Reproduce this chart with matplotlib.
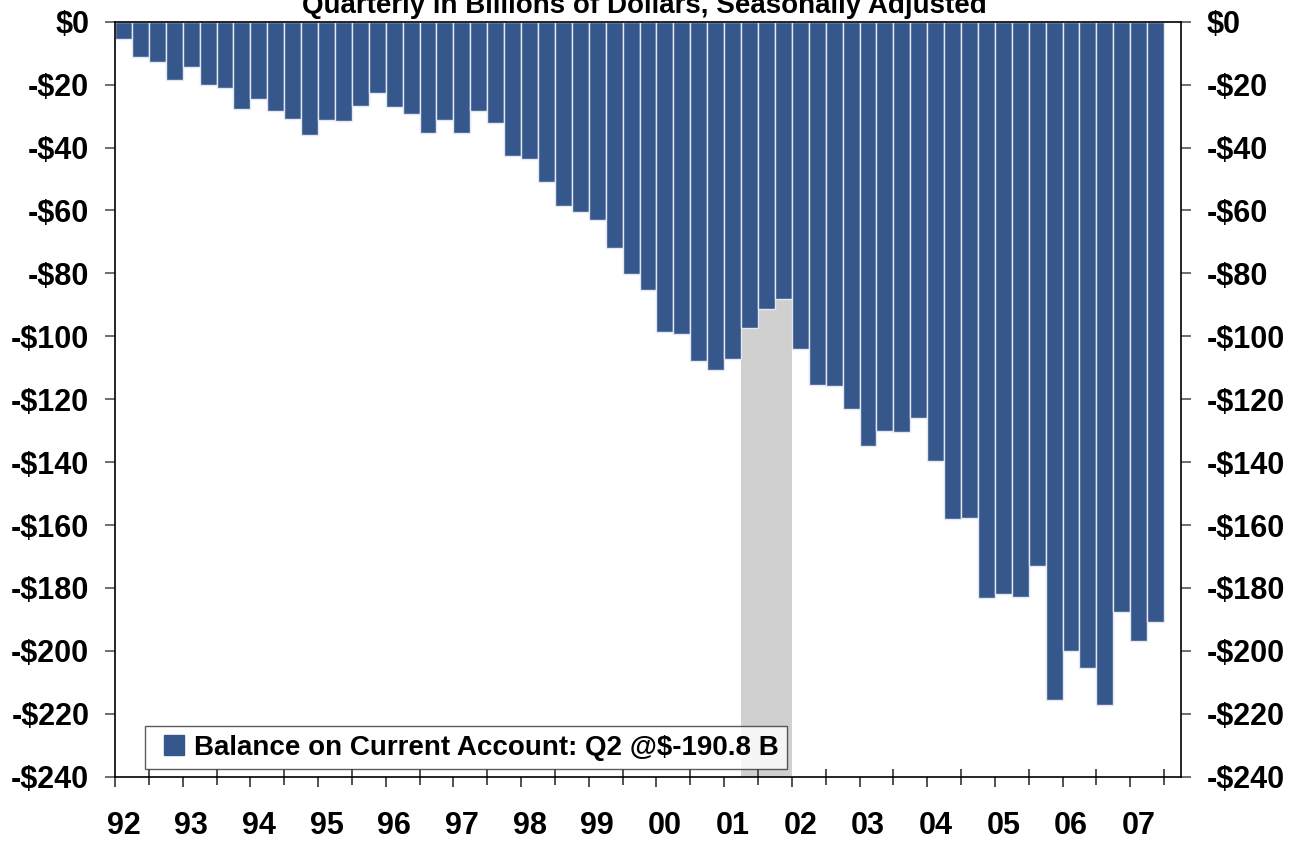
import matplotlib
matplotlib.use("Agg")
import matplotlib.pyplot as plt
from matplotlib.lines import Line2D
import numpy as np

# ---- data (quarterly, 1992Q1 .. 2007Q2), billions of dollars ----
current_account = [
    -5.6, -11.3, -12.9, -18.6,      # 1992
    -14.5, -20.2, -21.1, -27.8,     # 1993
    -24.6, -28.3, -31.0, -35.9,     # 1994
    -31.2, -31.6, -26.7, -22.6,     # 1995
    -27.1, -29.4, -35.5, -31.2,     # 1996
    -35.5, -28.3, -32.3, -42.7,     # 1997
    -43.7, -50.9, -58.5, -60.6,     # 1998
    -63.0, -71.8, -80.3, -85.2,     # 1999
    -98.5, -99.3, -107.8, -110.6,   # 2000
    -107.3, -97.4, -91.3, -88.0,    # 2001
    -104.1, -115.5, -115.9, -123.1, # 2002
    -134.8, -130.0, -130.4, -126.0, # 2003
    -139.6, -158.2, -157.8, -183.3, # 2004
    -181.9, -182.9, -173.1, -215.6, # 2005
    -200.1, -205.5, -217.2, -187.6, # 2006
    -196.9, -190.8,                 # 2007
]
year_labels = ["92", "93", "94", "95", "96", "97", "98", "99",
               "00", "01", "02", "03", "04", "05", "06", "07"]
recession_quarters = (37, 40)   # 2001Q2 .. 2001Q4 (quarter index range)
y_ticks = [0, -20, -40, -60, -80, -100, -120, -140, -160, -180, -200, -220, -240]
title = "Quarterly in Billions of Dollars, Seasonally Adjusted"
legend_label = "Balance on Current Account: Q2 @$-190.8 B"

plt.rcParams["font.family"] = ["Liberation Sans", "DejaVu Sans"]
plt.rcParams["font.weight"] = "bold"

BAR = "#36578C"
n_slots = len(year_labels) * 4 - 1  # axis runs through 2007Q3

fig = plt.figure(figsize=(12.95, 8.43), dpi=100)
ax = fig.add_axes([115 / 1295, 66.3 / 843, 1066 / 1295, 755 / 843])

x = np.arange(len(current_account)) + 0.5
ax.axvspan(recession_quarters[0], recession_quarters[1], color="#d0d0d0",
           zorder=1, lw=0)
ax.bar(x, current_account, width=1.0, color=BAR,
       edgecolor="#e4e8f2", linewidth=1.0, zorder=2)

ax.set_xlim(0, n_slots)
ax.set_ylim(-240, 0)

# y axis (left and right)
ylabels = [("$%d" % v) if v == 0 else ("-$%d" % abs(v)) for v in y_ticks]
ax.set_yticks(y_ticks, ylabels)
ax.tick_params(axis="y", which="major", length=7.5, width=1.2, color="#555555",
               labelsize=22, pad=11, left=True, right=True,
               labelleft=True, labelright=True)
for lab in ax.get_yticklabels():
    lab.set_fontweight("bold")

# x axis ticks: mid-year (crossing) and year boundaries (outward)
ax.set_xticks(np.arange(2, n_slots, 4))
ax.set_xticks(np.arange(0, n_slots, 4), minor=True)
ax.tick_params(axis="x", which="major", direction="inout", length=11,
               width=1.2, color="#333333", labelbottom=False)
ax.tick_params(axis="x", which="minor", direction="out", length=7.5,
               width=1.2, color="#333333", labelbottom=False)

sec = ax.secondary_xaxis("bottom")
sec.set_xticks(np.arange(len(year_labels)) * 4 + 0.5, year_labels)
sec.tick_params(length=0, pad=25, labelsize=22)
sec.spines["bottom"].set_visible(False)
for lab in sec.get_xticklabels():
    lab.set_fontweight("bold")

for side in ["left", "right", "bottom", "top"]:
    ax.spines[side].set_color("black")
    ax.spines[side].set_linewidth(1.2)

fig.text(644 / 1295, 1 - 12.7 / 843, title, ha="center", va="baseline",
         fontsize=20, fontweight="bold")

handle = Line2D([], [], marker="s", linestyle="none", markersize=13.7,
                markerfacecolor=BAR, markeredgecolor=BAR)
leg = ax.legend([handle], [legend_label], loc="lower left",
                bbox_to_anchor=(0.028, 0.010), borderaxespad=0,
                fancybox=False, frameon=True,
                prop={"size": 20, "weight": "bold"}, handlelength=1.47,
                handletextpad=0.0, borderpad=0.3)
leg.get_frame().set_edgecolor("#333333")
leg.get_frame().set_linewidth(1.0)
leg.set_zorder(5)

fig.savefig("out.png", dpi=100)
